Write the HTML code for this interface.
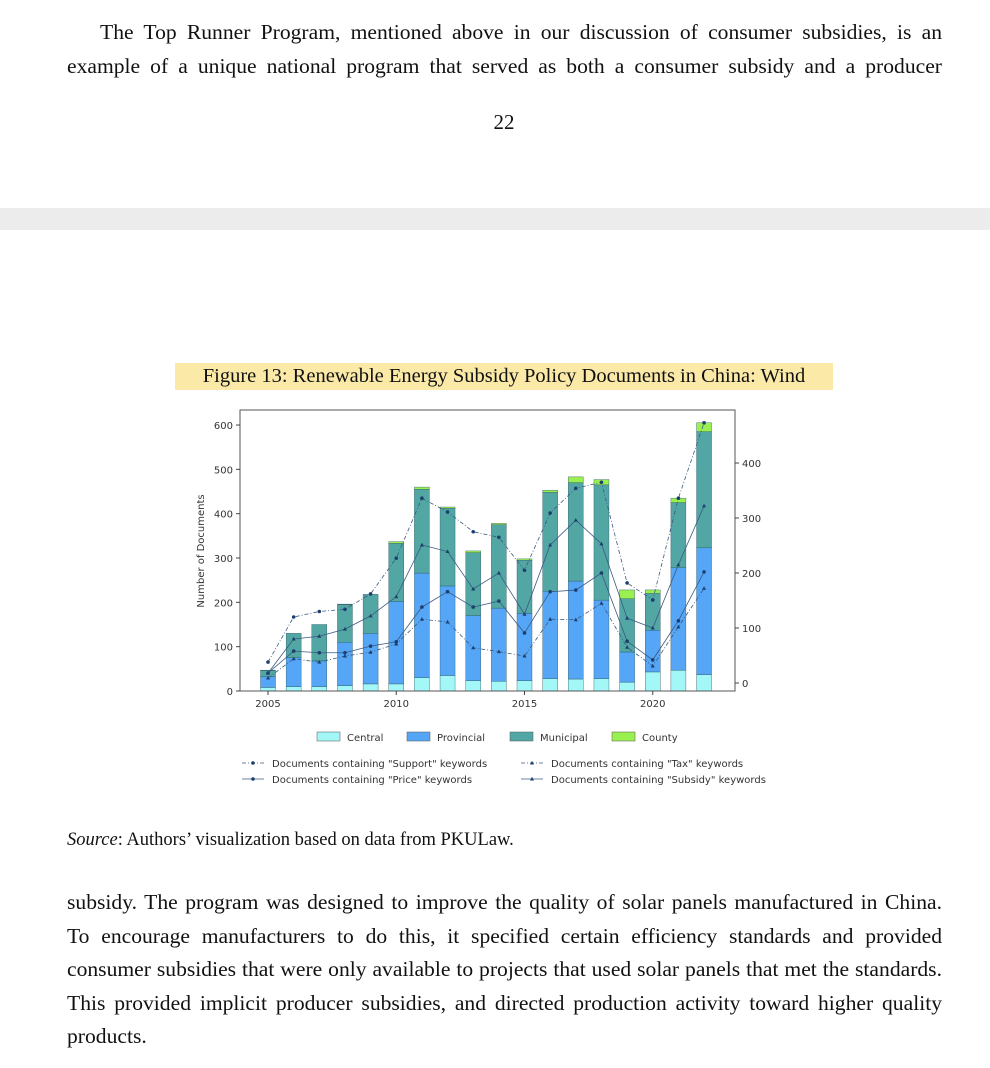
<!DOCTYPE html>
<html><head><meta charset="utf-8"><style>
html,body{margin:0;padding:0;background:#fff;width:990px;height:1068px;overflow:hidden;position:relative;font-family:"Liberation Serif",serif;color:#111}
.p{position:absolute;left:67px;width:875px;font-size:21.6px;line-height:33.5px}
.l{white-space:nowrap;text-align:justify;text-align-last:justify}
.band{position:absolute;left:0;top:208px;width:990px;height:22px;background:#ececec}
svg text{font-family:"DejaVu Sans","Liberation Sans",sans-serif;fill:#333}
</style></head><body>
<div class="p" style="top:16px">
<div class="l" style="padding-left:33px">The Top Runner Program, mentioned above in our discussion of consumer subsidies, is an</div>
<div class="l">example of a unique national program that served as both a consumer subsidy and a producer</div>
</div>
<div style="position:absolute;top:110px;left:0;width:1008px;text-align:center;font-size:21px">22</div>
<div class="band"></div>
<div style="position:absolute;top:363px;left:175px;width:658px;height:27px;background:#fbe9a8;font-size:20.5px;line-height:27px;text-align:center">Figure 13: Renewable Energy Subsidy Policy Documents in China: Wind</div>
<svg id="chart" width="990" height="1068" style="position:absolute;left:0;top:0"></svg>
<div style="position:absolute;top:830px;left:67px;font-size:18.5px"><i>Source</i>: Authors’ visualization based on data from PKULaw.</div>
<div class="p" style="top:886px">
<div class="l">subsidy. The program was designed to improve the quality of solar panels manufactured in China.</div>
<div class="l">To encourage manufacturers to do this, it specified certain efficiency standards and provided</div>
<div class="l">consumer subsidies that were only available to projects that used solar panels that met the standards.</div>
<div class="l">This provided implicit producer subsidies, and directed production activity toward higher quality</div>
<div>products.</div>
</div>
<script>
const years=[2005,2006,2007,2008,2009,2010,2011,2012,2013,2014,2015,2016,2017,2018,2019,2020,2021,2022];
const central=[8,10,10,12,16,16,30,35,23,22,23,28,27,28,20,43,47,37];
const provincial=[24,65,58,98,114,186,236,202,147,165,152,197,221,177,68,94,231,286];
const municipal=[14,55,82,85,88,131,189,175,142,188,120,223,222,260,120,83,147,262];
const county=[1,0,0,1,0,4,5,3,4,3,3,5,13,12,20,8,10,20];
const support=[38,120,130,134,162,227,336,311,275,265,205,309,354,365,182,151,336,473];
const subsidy=[18,80,85,98,122,157,251,239,171,200,125,251,296,253,118,100,215,322];
const price=[18,58,55,55,67,75,138,166,138,149,91,166,169,200,76,42,113,202];
const tax=[9,44,38,49,56,71,116,111,64,57,49,116,115,145,65,31,102,172];
const leftTicks=[0,100,200,300,400,500,600];
const rightTicks=[0,100,200,300,400];
const xTicks=[2005,2010,2015,2020];
const NS='http://www.w3.org/2000/svg';
const svg=document.getElementById('chart');
const X=y=>268+(y-2005)*25.65;
const YL=v=>691-v*0.4433;
const YR=v=>683-v*0.55;
function mk(t,a,parent){const e=document.createElementNS(NS,t);for(const k in a)e.setAttribute(k,a[k]);(parent||svg).appendChild(e);return e;}
const colors=['#a3f7f7','#55a6f7','#52a6a3','#9bf051'];
const names=['central','provincial','municipal','county'];
const series=[central,provincial,municipal,county];
years.forEach((yr,i)=>{let base=0;series.forEach((s,k)=>{const v=s[i];if(v<=0){return;}
const r=mk('rect',{x:X(yr)-7.5,y:YL(base+v),width:15,height:YL(base)-YL(base+v),fill:colors[k],stroke:'#2f5a66','stroke-width':0.4});


base+=v;});});
const fr=mk('rect',{x:240,y:410,width:495,height:281,fill:'none',stroke:'#555','stroke-width':1});


leftTicks.forEach(v=>{mk('line',{x1:236,x2:240,y1:YL(v),y2:YL(v),stroke:'#444'});const t=mk('text',{x:233,y:YL(v)+4,'font-size':10,'text-anchor':'end'});t.textContent=v;

});
rightTicks.forEach(v=>{mk('line',{x1:735,x2:739,y1:YR(v),y2:YR(v),stroke:'#444'});const t=mk('text',{x:742,y:YR(v)+4,'font-size':10});t.textContent=v;

});
xTicks.forEach(v=>{mk('line',{x1:X(v),x2:X(v),y1:691,y2:695,stroke:'#444'});const t=mk('text',{x:X(v),y:707,'font-size':10,'text-anchor':'middle'});t.textContent=v;

});
const yl=mk('text',{x:0,y:0,'font-size':10,'text-anchor':'middle',transform:'translate(204,551) rotate(-90)'});yl.textContent='Number of Documents';


const lineDefs=[[support,'4,2,1,2','circle','support'],[tax,'4,2,1,2','tri','tax'],[price,'','circle','price'],[subsidy,'','tri','subsidy']];
function marker(x,y,type,g){if(type==='circle')mk('circle',{cx:x,cy:y,r:1.8,fill:'#1d3f6e'},g);else mk('path',{d:`M${x},${y-2.2}L${x+2},${y+1.5}L${x-2},${y+1.5}Z`,fill:'#1d3f6e'},g);}
lineDefs.forEach(([d,dash,m,n])=>{const g=mk('g',{});


mk('polyline',{points:years.map((y,i)=>X(y)+','+YR(d[i])).join(' '),fill:'none',stroke:'#3a5a80','stroke-width':0.8,'stroke-dasharray':dash},g);
years.forEach((y,i)=>marker(X(y),YR(d[i]),m,g));});
const leg=[['Central',317],['Provincial',407],['Municipal',510],['County',612]];
leg.forEach((l,k)=>{const g=mk('g',{});


mk('rect',{x:l[1],y:732,width:23,height:9,fill:colors[k],stroke:'#555','stroke-width':0.5},g);const t=mk('text',{x:l[1]+30,y:741,'font-size':10},g);t.textContent=l[0];});
const leg2=[['Documents containing "Support" keywords',242,767,'4,2,1,2','circle'],['Documents containing "Price" keywords',242,783,'','circle'],['Documents containing "Tax" keywords',521,767,'4,2,1,2','tri'],['Documents containing "Subsidy" keywords',521,783,'','tri']];
leg2.forEach(l=>{const g=mk('g',{});


mk('line',{x1:l[1],x2:l[1]+22,y1:l[2]-4,y2:l[2]-4,stroke:'#3a5a80','stroke-width':0.8,'stroke-dasharray':l[3]},g);marker(l[1]+11,l[2]-4,l[4],g);const t=mk('text',{x:l[1]+30,y:l[2],'font-size':10},g);t.textContent=l[0];});
</script>
</body></html>
